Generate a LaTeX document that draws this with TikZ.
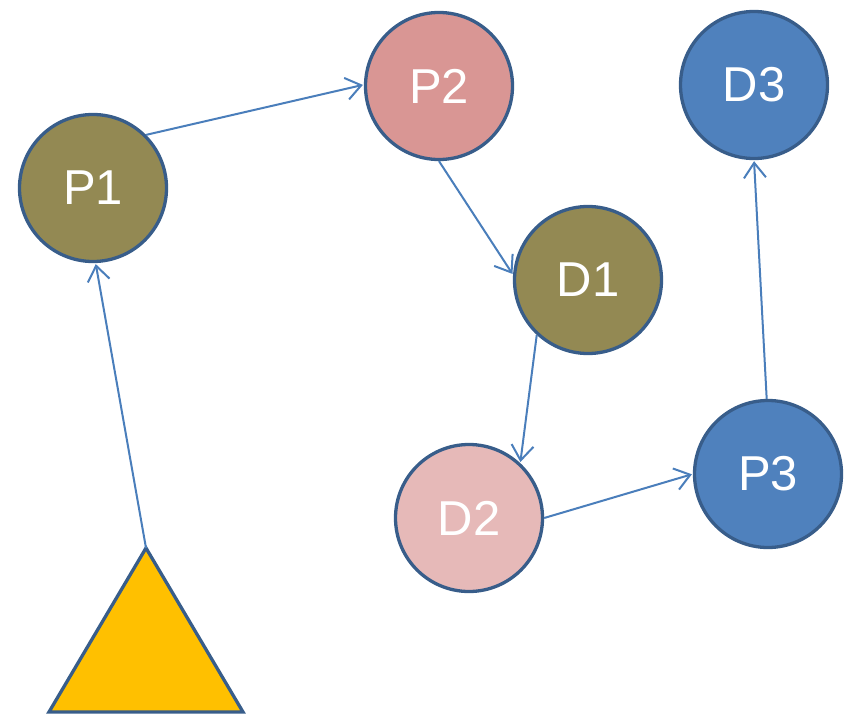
\documentclass[tikz,border=0pt]{standalone}
\usepackage{fontspec}
\setmainfont{Liberation Sans}
\usetikzlibrary{arrows.meta}
\definecolor{olive}{HTML}{938953}
\definecolor{rose}{HTML}{D99694}
\definecolor{blush}{HTML}{E6B9B8}
\definecolor{steel}{HTML}{4F81BD}
\definecolor{rim}{HTML}{385D8A}
\definecolor{link}{HTML}{4A7EBB}
\definecolor{amber}{HTML}{FFC000}
\tikzset{
  disc/.style={circle, draw=rim, line width=3.3pt, minimum size=147pt, inner sep=0pt,
    text=white, font=\fontsize{49}{58}\selectfont},
  flow/.style={draw=link, line width=2pt,
    -{Straight Barb[length=15pt,width=22pt,line width=2pt]}, shorten >=1pt}
}
\begin{document}
\begin{tikzpicture}[x=1pt,y=-1pt]
  \useasboundingbox (0,0) rectangle (850,714);
  % nodes of the graph
  \node[disc, fill=olive] (P1) at (93,188) {P1};
  \node[disc, fill=rose]  (P2) at (439,86) {P2};
  \node[disc, fill=steel] (D3) at (754,85) {D3};
  \node[disc, fill=olive] (D1) at (588,280) {D1};
  \node[disc, fill=blush] (D2) at (469,518) {D2};
  \node[disc, fill=steel] (P3) at (768,474) {P3};
  % start marker
  \coordinate (apex) at (146,548);
  \coordinate (bl) at (49,712);
  \coordinate (br) at (243,712);
  \draw[draw=rim, fill=amber, line width=3.3pt, line join=miter] (apex) -- (br) -- (bl) -- cycle;
  % connectors
  \draw[flow] (apex) -- (P1.-88);
  \draw[flow] (P1.45) -- (P2.179);
  \draw[flow] (P2.270) -- (D1.176);
  \draw[flow] (D1.227) -- (D2.47);
  \draw[flow] (D2.0) -- (P3.180);
  \draw[flow] (P3.91) -- (D3.270);
\end{tikzpicture}
\end{document}
